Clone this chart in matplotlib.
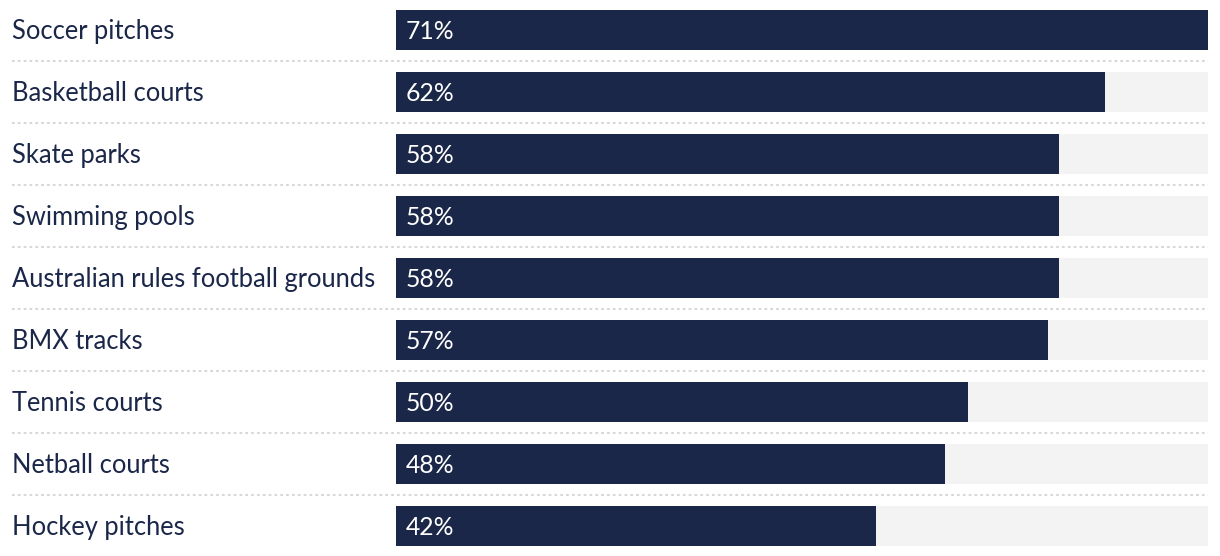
import matplotlib
matplotlib.use("Agg")
import matplotlib.pyplot as plt
from matplotlib.transforms import blended_transform_factory

# data
categories = [
    "Soccer pitches",
    "Basketball courts",
    "Skate parks",
    "Swimming pools",
    "Australian rules football grounds",
    "BMX tracks",
    "Tennis courts",
    "Netball courts",
    "Hockey pitches",
]
values = [71, 62, 58, 58, 58, 57, 50, 48, 42]

NAVY = "#1b2749"
TRACK = "#f3f3f3"
SEP = "#d8d8d8"
FONT = "Lato"

W, H = 1220, 556
fig = plt.figure(figsize=(W / 100, H / 100), dpi=100)
fig.patch.set_facecolor("white")

# bar area in pixels: 396..1208
ax = fig.add_axes([396 / W, 0, (1208 - 396) / W, 1])
pitch = 62
top = -30 / pitch
ax.set_ylim(top + H / pitch, top)
vmax = max(values)
ax.set_xlim(0, vmax)
ax.axis("off")

ys = list(range(len(categories)))
bar_h = 40 / pitch
ax.barh(ys, [vmax] * len(ys), height=bar_h, color=TRACK, zorder=1)
ax.barh(ys, values, height=bar_h, color=NAVY, zorder=2)

lbl_tr = blended_transform_factory(fig.transFigure, ax.transData)
for y, cat, v in zip(ys, categories, values):
    ax.text(12 / W, y + 0.02, cat, transform=lbl_tr, ha="left", va="center",
            fontsize=18.4, color=NAVY, family=FONT)
    ax.text(vmax * 10 / 812, y + 0.02, f"{v}%", ha="left", va="center",
            fontsize=17.8, color="white", family=FONT, zorder=3)

# dotted separators between rows
for y in ys[:-1]:
    ln = plt.Line2D([12 / W, 1208 / W], [y + 0.5, y + 0.5], transform=lbl_tr,
                    color=SEP, linewidth=1.5, linestyle=(0, (1.3, 1.5)))
    fig.add_artist(ln)

fig.savefig("out.png", dpi=100)
